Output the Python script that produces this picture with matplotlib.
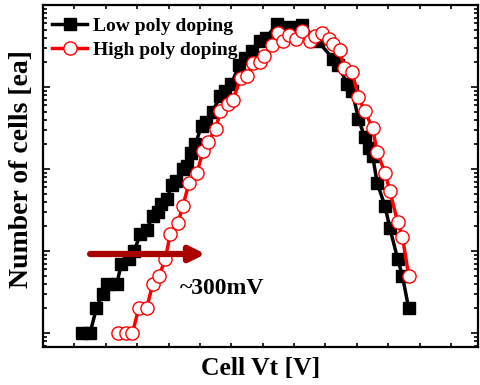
import matplotlib
matplotlib.use("Agg")
import matplotlib.pyplot as plt

plt.rcParams['font.family'] = ['Liberation Serif', 'DejaVu Serif']
plt.rcParams['font.weight'] = 'bold'

# Low poly doping (black squares): cell Vt [V] vs number of cells
low_vt = [0.25, 0.30, 0.34, 0.38, 0.41, 0.47, 0.50, 0.55, 0.58, 0.62, 0.66, 0.70,
          0.73, 0.75, 0.79, 0.82, 0.85, 0.89, 0.92, 0.94, 0.97, 1.01, 1.04, 1.08,
          1.13, 1.16, 1.20, 1.25, 1.29, 1.33, 1.38, 1.42, 1.49, 1.57, 1.65,
          1.75, 1.85, 1.88, 1.94, 1.97, 2.01, 2.05, 2.08, 2.10, 2.13, 2.18, 2.21,
          2.26, 2.29, 2.33]
low_n = [1, 1, 2, 3, 4, 4, 7, 8, 10, 16, 18, 27,
         30, 37, 43, 64, 72, 100, 109, 157, 200, 334, 380, 500,
         780, 894, 1088, 1854, 2259, 2748, 3640, 3960, 5860, 5395, 5700,
         3640, 2200, 1854, 1088, 900, 407, 246, 180, 144, 67, 35, 19,
         8, 5, 2]

# High poly doping (red open circles)
high_vt = [0.48, 0.53, 0.57, 0.61, 0.66, 0.70, 0.74, 0.78, 0.81, 0.86, 0.89, 0.93,
           0.98, 1.02, 1.05, 1.10, 1.13, 1.18, 1.21, 1.26, 1.30, 1.34, 1.38, 1.41,
           1.46, 1.50, 1.53, 1.57, 1.61, 1.65, 1.70, 1.73, 1.78, 1.82, 1.85, 1.89,
           1.92, 1.97, 2.01, 2.05, 2.10, 2.13, 2.18, 2.21, 2.26, 2.29, 2.33]
high_n = [1, 1, 1, 2, 2, 4, 5, 8, 16, 22, 35, 67,
          89, 166, 213, 307, 509, 619, 695, 1300, 1365, 1950, 2010, 2390,
          3240, 4530, 3640, 4260, 3850, 4800, 3640, 4200, 4530, 3850, 3340, 2840,
          1700, 1520, 758, 509, 316, 160, 89, 54, 22.5, 15, 5]

series_labels = ["Low poly doping", "High poly doping"]

fig = plt.figure(figsize=(4.8, 3.85), dpi=100)
ax = fig.add_axes([0.0896, 0.0987, 0.906, 0.888])

ax.plot(low_vt, low_n, color='black', lw=2.5, marker='s', ms=8.5,
        mfc='black', mec='black', label=series_labels[0])
ax.plot(high_vt, high_n, color='red', lw=2.5, marker='o', ms=9.5,
        mfc='white', mec='red', mew=1.0, label=series_labels[1])

ax.set_yscale('log')
ax.set_xlim(0, 2.771)
ax.set_ylim(0.675, 10000)
ax.set_xticks([0.2 * i for i in range(1, 14)])
ax.tick_params(which='both', direction='in', top=True, right=True,
               labelbottom=False, labelleft=False, width=1.2)
ax.tick_params(which='major', length=5)
ax.tick_params(which='minor', length=3)
ax.tick_params(axis='x', length=3)
for s in ax.spines.values():
    s.set_linewidth(1.6)

ax.set_ylabel("Number of cells [ea]", fontsize=20, fontweight='bold')
ax.yaxis.set_label_coords(-0.02, 0.52)
ax.set_xlabel("Cell Vt [V]", fontsize=18.5, fontweight='bold', labelpad=7)

# ~300mV shift arrow
ax.annotate("", xy=(1.035, 9.2), xytext=(0.30, 9.2),
            arrowprops=dict(arrowstyle='-|>,head_length=0.9,head_width=0.45',
                            color='#aa0000', lw=4.5, shrinkA=0, shrinkB=0))
ax.text(0.87, 3.54, "~300mV", fontsize=17, fontweight='bold', ha='left', va='center')

ax.legend(loc='upper left', bbox_to_anchor=(-0.01, 1.005), frameon=False,
          fontsize=14, handlelength=1.8, handletextpad=0.3,
          borderaxespad=0.5, labelspacing=0.35, borderpad=0.2)

fig.savefig("out.png", dpi=100)
